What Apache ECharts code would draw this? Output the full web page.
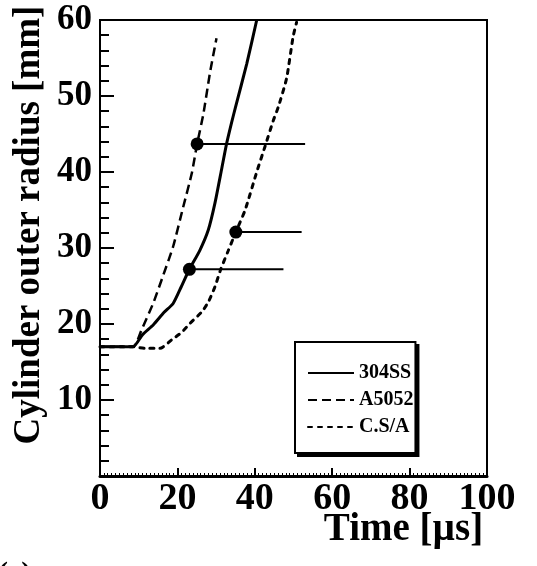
<!DOCTYPE html>
<html>
<head>
<meta charset="utf-8">
<script src="https://cdn.jsdelivr.net/npm/echarts@6/dist/echarts.min.js"></script>
<style>html,body{margin:0;padding:0;background:#fff}#c{width:537px;height:566px}</style>
</head>
<body>
<div id="c"></div>
<script>
// ---- data ----
const seriesNames = ['304SS', 'A5052', 'C.S/A'];
const t304 = [0, 8.5, 11, 13.8, 16.5, 18.9, 21, 23.1, 25.8, 28.0, 29.7, 31.4, 32.7, 34.0, 35.0, 37.9, 40.5];
const r304 = [17, 17, 18.6, 19.9, 21.5, 22.7, 24.9, 27.2, 29.7, 32.4, 35.9, 40.3, 43.7, 46.5, 48.5, 54.2, 60];
const tA5052 = [0, 8.5, 10.8, 13.8, 16.4, 18.9, 21.5, 23.7, 25.1, 26.7, 28.4, 30.1];
const rA5052 = [17, 17, 19.3, 22.8, 26.5, 30.2, 35.4, 39.8, 43.7, 47.6, 53.0, 57.6];
const tCSA = [0, 8.5, 11.6, 15.5, 18.5, 21.1, 23.3, 26.3, 28.0, 29.7, 31.2, 33.1, 35.1, 37.5, 40.5, 42.6, 44.8, 46.1, 48.2, 49.9, 50.8];
const rCSA = [17, 17, 16.8, 16.8, 17.9, 18.9, 20.1, 21.6, 22.9, 24.9, 27.2, 29.6, 32.1, 35.0, 40.0, 43.3, 46.8, 48.6, 52.3, 57.8, 59.7];
// marker points (filled circle) and where their horizontal bars end
const markT = [23.1, 25.1, 35.1];
const markR = [27.2, 43.7, 32.1];
const markEndT = [47.4, 53.0, 52.1];
const xTicks = [0, 20, 40, 60, 80, 100];
const yTicks = [0, 10, 20, 30, 40, 50, 60];

const zip = (a, b) => a.map((v, i) => [v, b[i]]);
const FONT = "'Liberation Serif', 'Times New Roman', serif";

const lineSeries = [
  {name: seriesNames[0], data: zip(t304, r304), lineStyle: {type: 'solid', width: 3}},
  {name: seriesNames[1], data: zip(tA5052, rA5052), lineStyle: {type: [9, 5], width: 2.5}},
  {name: seriesNames[2], data: zip(tCSA, rCSA), lineStyle: {type: [4, 6], width: 3, cap: 'round'}}
].map(s => Object.assign({
  type: 'line', symbol: 'none', showSymbol: false, smooth: 0.2, color: '#000', z: 3
}, s));

const markSeries = markT.map((t, i) => ({
  type: 'line', name: 'mark' + i, color: '#000', z: 4,
  lineStyle: {width: 2, color: '#000'},
  itemStyle: {color: '#000'},
  data: [
    {value: [t, markR[i]], symbol: 'circle', symbolSize: 13},
    {value: [markEndT[i], markR[i]], symbol: 'none', symbolSize: 0}
  ]
}));

const LEG = {left: 295, top: 342, padding: [20, 2, 15, 12], itemWidth: 46};

const chart = echarts.init(document.getElementById('c'));
chart.setOption({
  animation: false,
  backgroundColor: '#fff',
  grid: {left: 100, right: 50, top: 20, bottom: 90, containLabel: false, outerBoundsMode: 'none',
    show: true, borderColor: '#000', borderWidth: 2, backgroundColor: 'transparent'},
  legend: {
    data: seriesNames,
    orient: 'vertical',
    left: LEG.left, top: LEG.top,
    padding: LEG.padding,
    itemWidth: LEG.itemWidth, itemHeight: 14, itemGap: 5,
    backgroundColor: '#fff',
    borderColor: '#000', borderWidth: 2,
    itemStyle: {opacity: 0},
    textStyle: {fontFamily: FONT, fontWeight: 'bold', fontSize: 20, lineHeight: 22, color: '#000'}
  },
  xAxis: {
    type: 'value', min: xTicks[0], max: xTicks[xTicks.length - 1], interval: 20,
    name: 'Time [µs]', nameLocation: 'middle', nameGap: 34, nameMoveOverlap: false,
    nameTextStyle: {fontFamily: FONT, fontWeight: 'bold', fontSize: 39, color: '#000', verticalAlign: 'top', padding: [0, 0, 0, 220]},
    axisLine: {show: true, lineStyle: {color: '#000', width: 3}},
    axisTick: {show: true, inside: true, length: 8, lineStyle: {color: '#000', width: 2}},
    minorTick: {show: true, splitNumber: 20, length: 3, lineStyle: {color: '#000', width: 1}},
    splitLine: {show: false},
    axisLabel: {fontFamily: FONT, fontWeight: 'bold', fontSize: 38, color: '#000', margin: 4,
      formatter: v => xTicks.indexOf(v) >= 0 ? String(v) : ''}
  },
  yAxis: {
    type: 'value', min: yTicks[0], max: yTicks[yTicks.length - 1], interval: 10,
    name: 'Cylinder outer radius [mm]', nameLocation: 'middle', nameGap: 52, nameRotate: 90, nameMoveOverlap: false,
    nameTextStyle: {fontFamily: FONT, fontWeight: 'bold', fontSize: 37, color: '#000', padding: [0, 0, 0, 46]},
    axisLine: {show: true, lineStyle: {color: '#000', width: 2}},
    axisTick: {show: true, inside: true, length: 14, lineStyle: {color: '#000', width: 2}},
    minorTick: {show: true, splitNumber: 5, length: 9, lineStyle: {color: '#000', width: 2}},
    splitLine: {show: false},
    axisLabel: {fontFamily: FONT, fontWeight: 'bold', fontSize: 35, color: '#000', margin: 8,
      formatter: v => (v === 0 ? '' : String(v))}
  },
  graphic: [
    {id: 'legShadow', type: 'rect', z: 1, shape: {x: LEG.left + 3, y: LEG.top + 3, width: 118, height: 111}, style: {fill: '#000'}},
    {type: 'text', left: -2, top: 559, style: {text: '(c)', font: "bold 30px 'Liberation Serif', serif", fill: '#000'}}
  ],
  series: lineSeries.concat(markSeries)
});
// size the legend's drop shadow to the legend box actually laid out
try {
  const legendView = chart.getViewOfComponentModel(chart.getModel().getComponent('legend'));
  const r = legendView.group.getBoundingRect();
  const g = legendView.group;
  chart.setOption({graphic: [{id: 'legShadow', shape: {x: g.x + r.x + 3, y: g.y + r.y + 3, width: r.width, height: r.height}}]});
} catch (e) {}
</script>
</body>
</html>
